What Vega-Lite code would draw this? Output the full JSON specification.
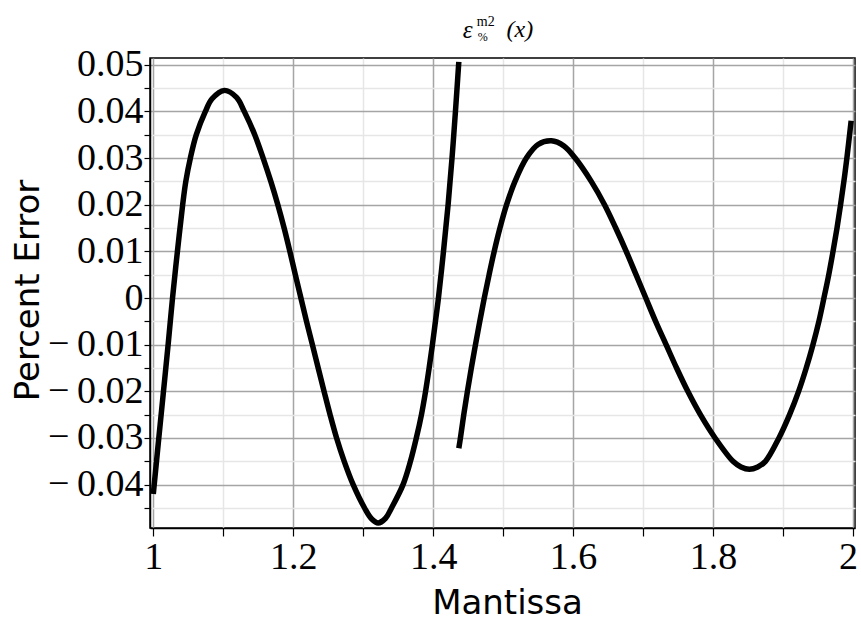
{
  "$schema": "https://vega.github.io/schema/vega-lite/v6.json",
  "width": 705,
  "height": 470,
  "autosize": {"type": "none"},
  "padding": {"left": 150, "top": 58, "right": 6, "bottom": 95},
  "background": "white",
  "config": {
    "view": {"stroke": "#000000", "strokeWidth": 1.5},
    "axis": {
      "domainColor": "#000000",
      "domainWidth": 1.5,
      "tickColor": "#000000",
      "tickWidth": 1.2,
      "labelColor": "#000000",
      "labelFont": "Liberation Serif",
      "labelFontSize": 38,
      "titleColor": "#000000",
      "titleFont": "DejaVu Sans",
      "titleFontSize": 34,
      "titleFontWeight": "normal",
      "gridWidth": 1.5
    }
  },
  "layer": [
    {
      "data": {
        "values": [
          {"seg": "a", "m": 1.0000, "e": -0.0420},
          {"seg": "a", "m": 1.0071, "e": -0.0312},
          {"seg": "a", "m": 1.0143, "e": -0.0204},
          {"seg": "a", "m": 1.0214, "e": -0.0097},
          {"seg": "a", "m": 1.0275, "e": 0.0000},
          {"seg": "a", "m": 1.0345, "e": 0.0100},
          {"seg": "a", "m": 1.0420, "e": 0.0200},
          {"seg": "a", "m": 1.0465, "e": 0.0250},
          {"seg": "a", "m": 1.0530, "e": 0.0300},
          {"seg": "a", "m": 1.0615, "e": 0.0350},
          {"seg": "a", "m": 1.0745, "e": 0.0400},
          {"seg": "a", "m": 1.0840, "e": 0.0427},
          {"seg": "a", "m": 1.1014, "e": 0.0445},
          {"seg": "a", "m": 1.1190, "e": 0.0430},
          {"seg": "a", "m": 1.1300, "e": 0.0400},
          {"seg": "a", "m": 1.1450, "e": 0.0350},
          {"seg": "a", "m": 1.1570, "e": 0.0300},
          {"seg": "a", "m": 1.1680, "e": 0.0250},
          {"seg": "a", "m": 1.1780, "e": 0.0200},
          {"seg": "a", "m": 1.1870, "e": 0.0150},
          {"seg": "a", "m": 1.1952, "e": 0.0100},
          {"seg": "a", "m": 1.2030, "e": 0.0050},
          {"seg": "a", "m": 1.2110, "e": 0.0000},
          {"seg": "a", "m": 1.2190, "e": -0.0050},
          {"seg": "a", "m": 1.2274, "e": -0.0100},
          {"seg": "a", "m": 1.2357, "e": -0.0150},
          {"seg": "a", "m": 1.2441, "e": -0.0200},
          {"seg": "a", "m": 1.2527, "e": -0.0250},
          {"seg": "a", "m": 1.2620, "e": -0.0300},
          {"seg": "a", "m": 1.2729, "e": -0.0350},
          {"seg": "a", "m": 1.2857, "e": -0.0400},
          {"seg": "a", "m": 1.3020, "e": -0.0450},
          {"seg": "a", "m": 1.3119, "e": -0.0473},
          {"seg": "a", "m": 1.3214, "e": -0.0482},
          {"seg": "a", "m": 1.3320, "e": -0.0472},
          {"seg": "a", "m": 1.3405, "e": -0.0450},
          {"seg": "a", "m": 1.3570, "e": -0.0400},
          {"seg": "a", "m": 1.3676, "e": -0.0350},
          {"seg": "a", "m": 1.3760, "e": -0.0300},
          {"seg": "a", "m": 1.3833, "e": -0.0250},
          {"seg": "a", "m": 1.3892, "e": -0.0200},
          {"seg": "a", "m": 1.3943, "e": -0.0150},
          {"seg": "a", "m": 1.3990, "e": -0.0100},
          {"seg": "a", "m": 1.4033, "e": -0.0050},
          {"seg": "a", "m": 1.4076, "e": 0.0000},
          {"seg": "a", "m": 1.4148, "e": 0.0100},
          {"seg": "a", "m": 1.4214, "e": 0.0200},
          {"seg": "a", "m": 1.4270, "e": 0.0300},
          {"seg": "a", "m": 1.4319, "e": 0.0400},
          {"seg": "a", "m": 1.4367, "e": 0.0506},
          {"seg": "b", "m": 1.4367, "e": -0.0322},
          {"seg": "b", "m": 1.4390, "e": -0.0300},
          {"seg": "b", "m": 1.4438, "e": -0.0250},
          {"seg": "b", "m": 1.4490, "e": -0.0200},
          {"seg": "b", "m": 1.4546, "e": -0.0150},
          {"seg": "b", "m": 1.4605, "e": -0.0100},
          {"seg": "b", "m": 1.4667, "e": -0.0050},
          {"seg": "b", "m": 1.4731, "e": 0.0000},
          {"seg": "b", "m": 1.4800, "e": 0.0050},
          {"seg": "b", "m": 1.4873, "e": 0.0100},
          {"seg": "b", "m": 1.4955, "e": 0.0150},
          {"seg": "b", "m": 1.5050, "e": 0.0200},
          {"seg": "b", "m": 1.5170, "e": 0.0250},
          {"seg": "b", "m": 1.5333, "e": 0.0300},
          {"seg": "b", "m": 1.5500, "e": 0.0329},
          {"seg": "b", "m": 1.5690, "e": 0.0337},
          {"seg": "b", "m": 1.5870, "e": 0.0326},
          {"seg": "b", "m": 1.6030, "e": 0.0300},
          {"seg": "b", "m": 1.6260, "e": 0.0250},
          {"seg": "b", "m": 1.6450, "e": 0.0200},
          {"seg": "b", "m": 1.6610, "e": 0.0150},
          {"seg": "b", "m": 1.6760, "e": 0.0100},
          {"seg": "b", "m": 1.6900, "e": 0.0050},
          {"seg": "b", "m": 1.7040, "e": 0.0000},
          {"seg": "b", "m": 1.7180, "e": -0.0050},
          {"seg": "b", "m": 1.7330, "e": -0.0100},
          {"seg": "b", "m": 1.7480, "e": -0.0150},
          {"seg": "b", "m": 1.7640, "e": -0.0200},
          {"seg": "b", "m": 1.7820, "e": -0.0250},
          {"seg": "b", "m": 1.8030, "e": -0.0300},
          {"seg": "b", "m": 1.8286, "e": -0.0350},
          {"seg": "b", "m": 1.8400, "e": -0.0362},
          {"seg": "b", "m": 1.8520, "e": -0.0367},
          {"seg": "b", "m": 1.8640, "e": -0.0362},
          {"seg": "b", "m": 1.8750, "e": -0.0350},
          {"seg": "b", "m": 1.8943, "e": -0.0300},
          {"seg": "b", "m": 1.9095, "e": -0.0250},
          {"seg": "b", "m": 1.9224, "e": -0.0200},
          {"seg": "b", "m": 1.9333, "e": -0.0150},
          {"seg": "b", "m": 1.9429, "e": -0.0100},
          {"seg": "b", "m": 1.9514, "e": -0.0050},
          {"seg": "b", "m": 1.9586, "e": 0.0000},
          {"seg": "b", "m": 1.9655, "e": 0.0050},
          {"seg": "b", "m": 1.9716, "e": 0.0100},
          {"seg": "b", "m": 1.9773, "e": 0.0150},
          {"seg": "b", "m": 1.9824, "e": 0.0200},
          {"seg": "b", "m": 1.9871, "e": 0.0250},
          {"seg": "b", "m": 1.9914, "e": 0.0300},
          {"seg": "b", "m": 1.9975, "e": 0.0380}
        ]
      },
      "mark": {"type": "line", "color": "#000000", "strokeWidth": 5.5, "strokeCap": "butt", "interpolate": "catmull-rom", "clip": true},
      "encoding": {
        "x": {
          "field": "m",
          "type": "quantitative",
          "scale": {"domain": [0.9953, 2.003], "nice": false, "zero": false},
          "axis": {
            "title": "Mantissa",
            "values": [1, 1.1, 1.2, 1.3, 1.4, 1.5, 1.6, 1.7, 1.8, 1.9, 2],
            "tickCount": 40,
            "labelExpr": "round(datum.value * 10) % 2 == 0 ? '' + round(datum.value * 10) / 10 : ''",
            "labelOffset": {"condition": {"test": "round(datum.value * 10) == 20", "value": -5}, "value": 0},
            "tickSize": 8,
            "labelPadding": 2,
            "labelFlush": false,
            "labelOverlap": false,
            "gridColor": {"condition": {"test": "round(datum.value * 10) % 2 == 0", "value": "#a5a5a5"}, "value": "#e6e6e6"},
            "titleX": 357,
            "titleY": 85,
            "titleBaseline": "alphabetic",
            "titleAnchor": "start",
            "titleAlign": "center"
          }
        },
        "y": {
          "field": "e",
          "type": "quantitative",
          "scale": {"domain": [-0.04929, 0.05144], "nice": false, "zero": false},
          "axis": {
            "title": "Percent Error",
            "values": [-0.045, -0.04, -0.035, -0.03, -0.025, -0.02, -0.015, -0.01, -0.005, 0, 0.005, 0.01, 0.015, 0.02, 0.025, 0.03, 0.035, 0.04, 0.045, 0.05],
            "tickCount": 40,
            "labelExpr": "round(datum.value * 200) % 2 != 0 ? '' : (round(datum.value * 200) == 0 ? '0' : (datum.value < 0 ? '\u2212\u2009' + (round(-datum.value * 100) / 100) : '' + (round(datum.value * 100) / 100)))",
            "tickSize": 6,
            "labelPadding": 1,
            "labelFlush": false,
            "labelOverlap": false,
            "gridColor": {"condition": {"test": "round(datum.value * 200) % 2 == 0", "value": "#a5a5a5"}, "value": "#e6e6e6"},
            "titleX": -112,
            "titleY": 232,
            "titleAngle": -90,
            "titleBaseline": "alphabetic",
            "titleAlign": "center",
            "titleAnchor": "start"
          }
        },
        "detail": {"field": "seg", "type": "nominal"}
      }
    },
    {
      "data": {"values": [{}]},
      "mark": {"type": "text", "font": "Liberation Serif", "fontSize": 25, "fontStyle": "italic", "align": "left", "baseline": "alphabetic", "dy": -20, "color": "#000000"},
      "encoding": {"x": {"datum": 1.4424}, "y": {"datum": 0.05144}, "text": {"value": "ε"}}
    },
    {
      "data": {"values": [{}]},
      "mark": {"type": "text", "font": "Liberation Serif", "fontSize": 14, "align": "left", "baseline": "alphabetic", "dy": -32, "color": "#000000"},
      "encoding": {"x": {"datum": 1.4624}, "y": {"datum": 0.05144}, "text": {"value": "m2"}}
    },
    {
      "data": {"values": [{}]},
      "mark": {"type": "text", "font": "Liberation Serif", "fontSize": 12, "align": "left", "baseline": "alphabetic", "dy": -17, "color": "#000000"},
      "encoding": {"x": {"datum": 1.4638}, "y": {"datum": 0.05144}, "text": {"value": "%"}}
    },
    {
      "data": {"values": [{}]},
      "mark": {"type": "text", "font": "Liberation Serif", "fontSize": 24, "fontStyle": "italic", "align": "left", "baseline": "alphabetic", "dy": -21, "color": "#000000"},
      "encoding": {"x": {"datum": 1.505}, "y": {"datum": 0.05144}, "text": {"value": "(x)"}}
    }
  ]
}
